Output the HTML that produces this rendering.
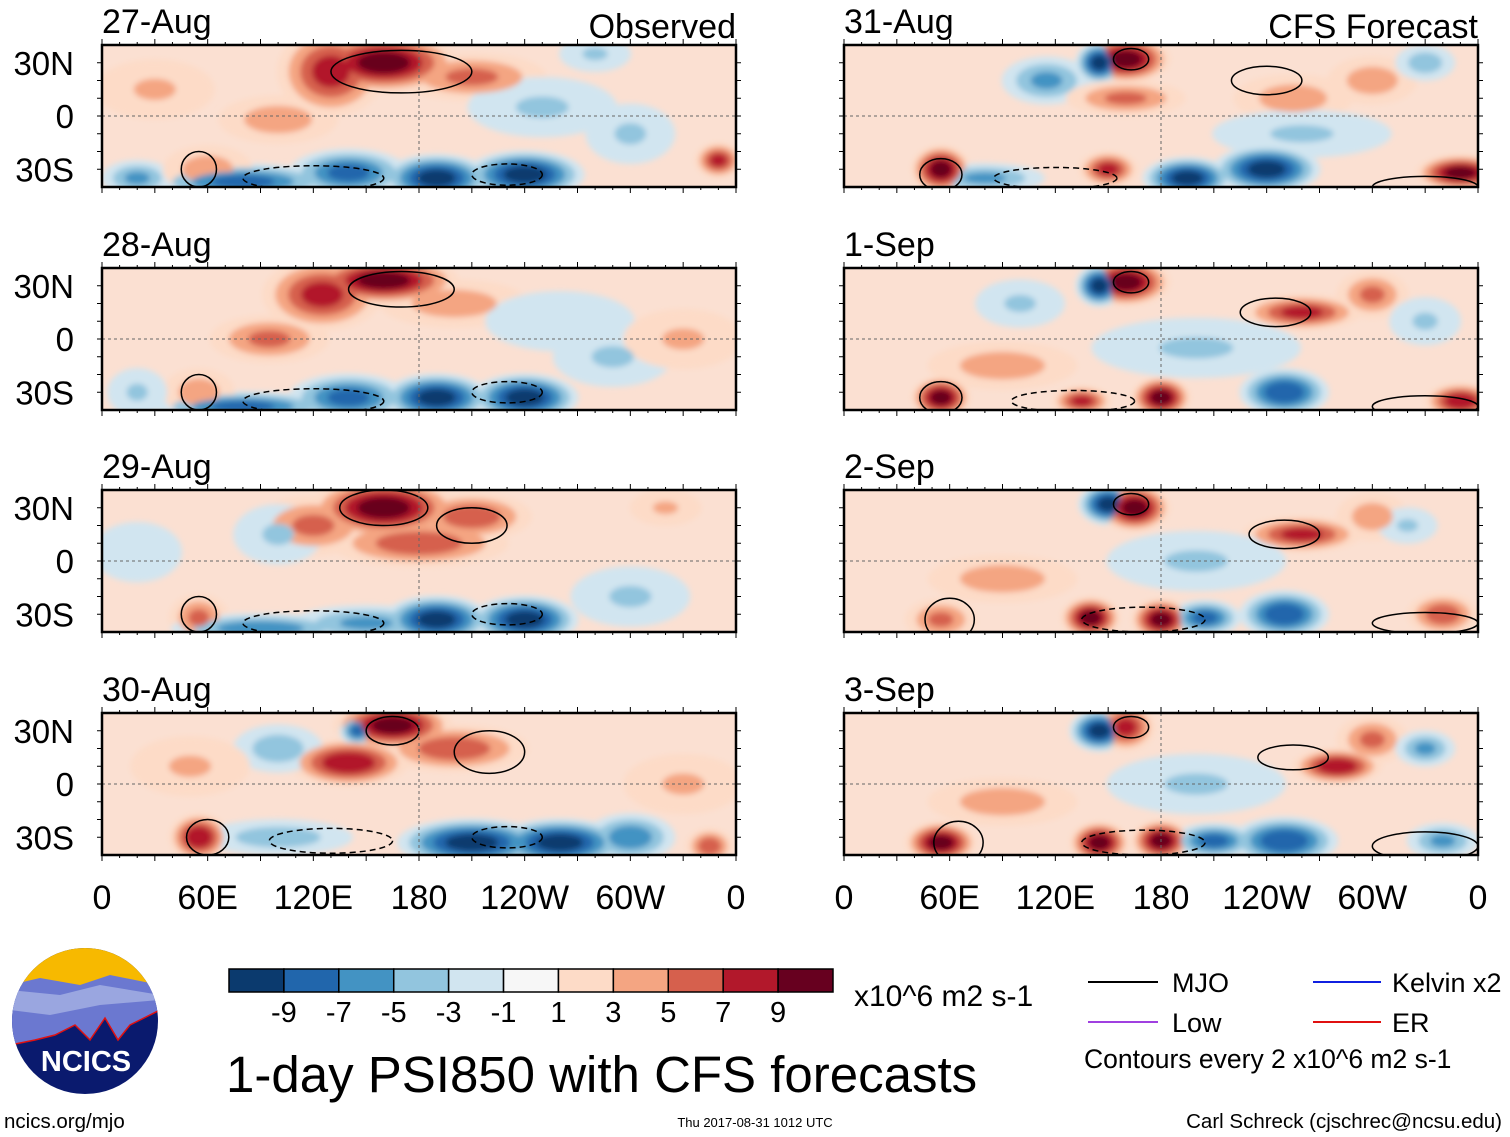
<!DOCTYPE html>
<html><head><meta charset="utf-8">
<style>
body{margin:0;background:#fff;}
svg{display:block;font-family:"Liberation Sans",sans-serif;}
</style></head>
<body>
<svg id="fig" width="1510" height="1137" viewBox="0 0 1510 1137" xmlns="http://www.w3.org/2000/svg">
<defs>
<filter id="blur" x="-20%" y="-50%" width="140%" height="200%"><feGaussianBlur stdDeviation="3"/></filter>
<clipPath id="logoclip"><circle cx="85" cy="1021" r="73"/></clipPath>
</defs>
<g id="panels"></g>
<g clip-path="url(#logoclip)">
<rect x="10" y="946" width="150" height="150" fill="#0a1a6e"/>
<rect x="10" y="946" width="150" height="40" fill="#f7b900"/>
<path d="M10 985 L40 978 L80 985 L110 975 L160 985 L160 1010 L130 1025 L118 1040 L105 1018 L90 1040 L75 1025 L55 1035 L35 1040 L10 1045Z" fill="#6b78d0"/>
<path d="M10 990 L60 995 L100 985 L160 995 L160 1000 L100 1005 L50 1015 L10 1010Z" fill="#9aa6e0"/>
<path d="M10 1045 L35 1040 L55 1035 L75 1025 L90 1040 L105 1018 L118 1040 L130 1025 L160 1010" fill="none" stroke="#e01010" stroke-width="1.5"/>
</g>
<text x="86" y="1071" text-anchor="middle" font-size="29" font-weight="bold" fill="#fff">NCICS</text>
<text x="4" y="1128" font-size="20.5">ncics.org/mjo</text>
<g id="cbar"></g>
<text x="854" y="1006" font-size="30">x10^6 m2 s-1</text>
<text x="226" y="1092" font-size="51">1-day PSI850 with CFS forecasts</text>
<text x="755" y="1127" font-size="13" text-anchor="middle">Thu 2017-08-31 1012 UTC</text>
<text x="1502" y="1128" font-size="20.5" text-anchor="end">Carl Schreck (cjschrec@ncsu.edu)</text>
<g>
<line x1="1088" y1="982" x2="1158" y2="982" stroke="#000" stroke-width="2"/>
<text x="1172" y="992" font-size="27">MJO</text>
<line x1="1313" y1="982" x2="1381" y2="982" stroke="#1020e0" stroke-width="2"/>
<text x="1392" y="992" font-size="27">Kelvin x2</text>
<line x1="1088" y1="1022" x2="1158" y2="1022" stroke="#a040e0" stroke-width="2"/>
<text x="1172" y="1032" font-size="27">Low</text>
<line x1="1313" y1="1022" x2="1381" y2="1022" stroke="#e01010" stroke-width="2"/>
<text x="1392" y="1032" font-size="27">ER</text>
<text x="1084" y="1068" font-size="26.5">Contours every 2 x10^6 m2 s-1</text>
</g>
</svg>
<script>
const levels=[-9,-7,-5,-3,-1,1,3,5,7,9];
const colors=["#0b3a6e","#2166ac","#4393c3","#92c5de","#d1e5f0","#f7f7f7","#fddbc7","#f4a582","#d6604d","#b2182b","#67001f"];
const latTicks=["30N","0","30S"];
const latVals=[30,0,-30];
const lonTicks=["0","60E","120E","180","120W","60W","0"];
const lonVals=[0,60,120,180,240,300,360];
const titles=["27-Aug","28-Aug","29-Aug","30-Aug","31-Aug","1-Sep","2-Sep","3-Sep"];
// blobs: [lon, lat, value, lonRadius, latRadius]
const blobs0=[[160,30,9,25,10],[130,25,7,18,15],[100,-2,4,20,8],[30,15,3,20,10],[210,22,5,25,8],[140,-32,-7,20,8],[190,-35,-9,18,8],[240,-33,-9,20,8],[80,-37,-7,30,6],[350,-25,7,8,6],[250,5,-3,25,10],[300,-10,-3,15,10],[20,-35,-5,12,6],[280,35,-3,12,6],[60,-30,4,15,8]];
const blobs1=[[160,33,9,25,8],[125,25,7,20,12],[95,0,5,20,8],[200,20,4,25,8],[140,-33,-7,20,8],[190,-33,-9,18,8],[240,-33,-9,18,8],[80,-38,-7,30,5],[55,-30,4,12,8],[290,-10,-3,20,10],[260,10,-2,25,10],[20,-30,-3,10,8],[330,0,3,20,10]];
const blobs2=[[160,30,9,25,10],[120,20,5,20,10],[180,10,6,30,8],[210,25,6,20,8],[55,-32,5,10,8],[150,-35,-5,25,6],[190,-33,-9,18,8],[240,-33,-9,18,8],[90,-38,-6,30,5],[100,15,-3,15,10],[300,-20,-3,20,10],[20,5,-2,15,10],[320,30,3,12,6]];
const blobs3=[[165,33,9,20,8],[140,12,8,20,8],[200,20,6,25,8],[55,-30,8,10,8],[100,20,-4,15,8],[145,30,-7,6,5],[210,-33,-9,25,8],[260,-33,-9,22,8],[300,-30,-6,15,8],[345,-35,6,8,6],[50,10,3,20,10],[100,-30,-4,25,6],[330,0,3,20,10]];
const blobs4=[[160,32,9,15,8],[145,30,-9,8,7],[195,-35,-9,15,7],[240,-30,-9,18,8],[55,-30,9,10,8],[150,-30,7,10,6],[350,-32,9,15,6],[115,20,-5,15,8],[160,10,5,20,6],[255,10,4,20,8],[300,20,4,15,8],[260,-10,-3,30,8],[80,-35,-5,20,5],[330,30,-4,10,6]];
const blobs5=[[160,32,9,15,8],[145,30,-9,8,7],[180,-33,9,10,7],[250,-30,-8,15,8],[55,-33,9,10,7],[135,-35,7,10,5],[350,-35,8,12,6],[260,15,7,20,6],[300,25,5,12,8],[200,-5,-3,35,10],[90,-15,4,25,8],[330,10,-3,12,8],[100,20,-3,15,8]];
const blobs6=[[150,32,-9,10,7],[165,30,9,12,8],[180,-33,9,10,7],[140,-32,9,10,7],[250,-30,-8,15,8],[205,-32,-7,12,6],[55,-33,5,12,7],[260,15,7,20,6],[300,25,4,12,8],[200,0,-3,30,10],[90,-10,4,25,8],[340,-30,6,12,7],[320,20,-3,10,6]];
const blobs7=[[145,30,-9,10,7],[160,32,7,10,8],[145,-33,9,10,7],[180,-32,9,10,7],[250,-32,-8,18,8],[210,-32,-7,14,6],[55,-33,9,12,7],[280,10,8,15,6],[300,25,5,12,8],[200,0,-3,30,10],[90,-10,4,25,8],[340,-32,-5,12,6],[330,20,-5,10,6]];
const allBlobs=[blobs0,blobs1,blobs2,blobs3,blobs4,blobs5,blobs6,blobs7];
// MJO contours: [lon, lat, rlon, rlat, dashed(1/0)]
const cont0=[[170,25,40,12,0],[55,-30,10,10,0],[120,-35,40,7,1],[230,-33,20,6,1]];
const cont1=[[170,28,30,10,0],[55,-30,10,10,0],[120,-35,40,7,1],[230,-30,20,6,1]];
const cont2=[[160,30,25,10,0],[210,20,20,10,0],[55,-30,10,10,0],[120,-35,40,7,1],[230,-30,20,6,1]];
const cont3=[[165,30,15,8,0],[220,18,20,12,0],[60,-30,12,10,0],[130,-32,35,7,1],[230,-30,20,6,1]];
const cont4=[[163,32,10,6,0],[240,20,20,8,0],[55,-33,12,9,0],[120,-35,35,6,1],[330,-40,30,6,0]];
const cont5=[[163,32,10,6,0],[245,15,20,8,0],[55,-33,12,9,0],[130,-35,35,6,1],[330,-38,30,6,0]];
const cont6=[[163,32,10,6,0],[250,15,20,8,0],[60,-33,14,12,0],[170,-33,35,7,1],[330,-35,30,6,0]];
const cont7=[[163,32,10,6,0],[255,15,20,7,0],[65,-33,14,12,0],[170,-33,35,7,1],[330,-35,30,8,0]];
const allCont=[cont0,cont1,cont2,cont3,cont4,cont5,cont6,cont7];

const NS="http://www.w3.org/2000/svg";
function mk(tag,attrs,parent){const e=document.createElementNS(NS,tag);for(const k in attrs)e.setAttribute(k,attrs[k]);parent.appendChild(e);return e;}
function colorFor(v){let i=0;while(i<levels.length&&v>levels[i])i++;return colors[i];}
const root=document.getElementById('panels');
const colX=[102,844], rowY=[45,268,490,713], PW=634, PH=142;
for(let p=0;p<8;p++){
  const c=p<4?0:1, r=p%4;
  const x0=colX[c], y0=rowY[r];
  const xs=lon=>x0+lon/360*PW;
  const ys=lat=>y0+PH/2-lat*(PH/80);
  const g=mk('g',{},root);
  
  
  const cp=mk('clipPath',{id:'clip'+p},g);
  mk('rect',{x:x0,y:y0,width:PW,height:PH},cp);
  const inner=mk('g',{'clip-path':'url(#clip'+p+')'},g);
  mk('rect',{x:x0,y:y0,width:PW,height:PH,fill:'#fbe0d2'},inner);
  const bg=mk('g',{filter:'url(#blur)'},inner);
  for(let k=1;k<=9;k+=2){
    allBlobs[p].forEach(b=>{
      const v=b[2], s=Math.sign(v), a=Math.abs(v);
      if(k>a) return;
      const f=1.7-1.1*((k-1)/Math.max(a-1,1));
      const el=mk('ellipse',{cx:xs(b[0]),cy:ys(b[1]),rx:b[3]/360*PW*f,ry:b[4]*(PH/80)*f,fill:colorFor(s*(k+0.5))},bg);
      
      
    });
  }
  allCont[p].forEach(ct=>{
    const el=mk('ellipse',{cx:xs(ct[0]),cy:ys(ct[1]),rx:ct[2]/360*PW,ry:ct[3]*(PH/80),fill:'none',stroke:'#000','stroke-width':1.5,'stroke-dasharray':ct[4]?'6 4':'none'},inner);
    
    
  });
  mk('line',{x1:x0,x2:x0+PW,y1:ys(0),y2:ys(0),stroke:'#666','stroke-dasharray':'3 3'},inner);
  mk('line',{x1:xs(180),x2:xs(180),y1:y0,y2:y0+PH,stroke:'#666','stroke-dasharray':'3 3'},inner);
  mk('rect',{x:x0,y:y0,width:PW,height:PH,fill:'none',stroke:'#000','stroke-width':2.5},g);
  for(let l=0;l<=360;l+=10){const big=l%30===0?6:3;
    mk('line',{x1:xs(l),x2:xs(l),y1:y0,y2:y0-big,stroke:'#000'},g);
    mk('line',{x1:xs(l),x2:xs(l),y1:y0+PH,y2:y0+PH+big,stroke:'#000'},g);}
  for(let la=-30;la<=30;la+=10){mk('line',{x1:x0,x2:x0-5,y1:ys(la),y2:ys(la),stroke:'#000'},g);mk('line',{x1:x0+PW,x2:x0+PW+5,y1:ys(la),y2:ys(la),stroke:'#000'},g);}
  const t=mk('text',{x:x0,y:y0-12,'font-size':34},g);t.textContent=titles[p];
  
  if(c===0){latVals.forEach((la,i)=>{const tt=mk('text',{x:74,y:ys(la)+12,'font-size':33,'text-anchor':'end'},g);tt.textContent=latTicks[i];
    });}
  if(r===3){lonVals.forEach((lo,i)=>{const tt=mk('text',{x:xs(lo),y:909,'font-size':34,'text-anchor':'middle'},g);tt.textContent=lonTicks[i];
    });}
}
const o=mk('text',{x:736,y:38,'font-size':34,'text-anchor':'end'},root);o.textContent='Observed';

const f=mk('text',{x:1478,y:38,'font-size':34,'text-anchor':'end'},root);f.textContent='CFS Forecast';

// colorbar
const cb=document.getElementById('cbar');
const cbx=229,cbw=604,cby=969,cbh=23,bw=cbw/colors.length;
colors.forEach((col,i)=>{const el=mk('rect',{x:cbx+i*bw,y:cby,width:bw,height:cbh,fill:col,stroke:'#000','stroke-width':1.5},cb);
  });
levels.forEach((lv,i)=>{const t=mk('text',{x:cbx+(i+1)*bw,y:1022,'font-size':29,'text-anchor':'middle'},cb);t.textContent=String(lv);
  });
</script>
</body></html>
